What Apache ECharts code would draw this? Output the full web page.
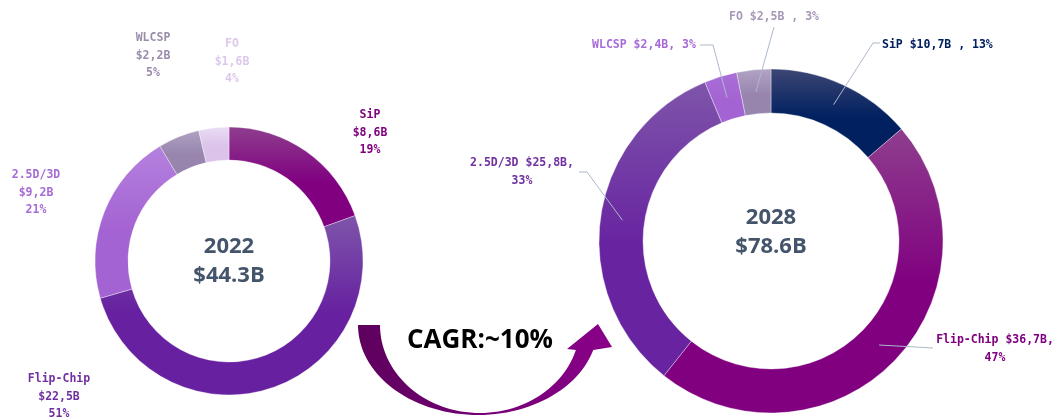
<!DOCTYPE html>
<html>
<head>
<meta charset="utf-8">
<script src="https://cdn.jsdelivr.net/npm/echarts@6/dist/echarts.min.js"></script>
<style>
html,body{margin:0;padding:0;background:#fff;}
#chart{width:1064px;height:418px;}
</style>
</head>
<body>
<div id="chart"></div>
<script>
// ---- data ----
const categories = ['SiP', 'Flip-Chip', '2.5D/3D', 'WLCSP', 'FO'];
const values2022 = [8.6, 22.5, 9.2, 2.2, 1.6];
const shares2022 = [19, 51, 21, 5, 4];
const values2028 = [10.7, 36.7, 25.8, 2.4, 2.5];
const shares2028 = [13, 47, 33, 3, 3];
const years = ['2022', '2028'];
const totals = ['$44.3B', '$78.6B'];
const cagrText = 'CAGR:~10%';

// ---- styles ----
const fillTop2022 = ['#8E3E8E', '#7E55AA', '#B481DF', '#AFA2C2', '#EADCF4'];
const fillBot2022 = ['#800080', '#6620A0', '#A463D2', '#9785AE', '#DBC3EA'];
const labelColor2022 = ['#800080', '#7030A0', '#A66BD6', '#9A8CAA', '#DCC8EC'];
const fillTop2028 = ['#3D4674', '#8E3E8E', '#7E55AA', '#A96FD8', '#B2A4C4'];
const fillBot2028 = ['#002060', '#800080', '#6824A0', '#A463D2', '#9785AE'];
const labelColor2028 = ['#002060', '#800080', '#7030A0', '#A66BD6', '#A898B8'];

const monoFont = '"DejaVu Sans Mono", "Liberation Mono", monospace';
const titleFont = '"Open Sans", "Noto Sans", sans-serif';
const centers = [[229, 261], [771, 241]];
const radii = [[101, 134], [128, 172]];

// label anchor positions (text centre) per series / data index
const labelPos2022 = [
  {x: 370, y: 133, align: 'center'},
  {x: 59, y: 397, align: 'center'},
  {x: 36, y: 193, align: 'center'},
  {x: 153, y: 56, align: 'center'},
  {x: 232, y: 62, align: 'center'}
];
const labelPos2028 = [
  {x: 882, y: 45, align: 'left', elbow: [873, 43], end: [880, 43]},
  {x: 995, y: 349, align: 'center', elbow: [915, 347], end: [933, 348]},
  {x: 522, y: 172, align: 'center', elbow: [587, 172], end: [579, 172]},
  {x: 644, y: 45, align: 'center', elbow: [713, 45], end: [700, 45]},
  {x: 774, y: 17, align: 'center', elbow: [774, 27], end: [774, 27]}
];

function money(v) { return '$' + String(v).replace('.', ','); }
const label2028Fmt = [
  (n, v, s) => n + ' ' + money(v) + 'B , ' + s + '%',
  (n, v, s) => n + ' ' + money(v) + 'B,\n' + s + '%',
  (n, v, s) => n + ' ' + money(v) + 'B,\n' + s + '%',
  (n, v, s) => n + ' ' + money(v) + 'B, ' + s + '%',
  (n, v, s) => n + ' ' + money(v) + 'B , ' + s + '%'
];

function grad(top, bot) {
  return new echarts.graphic.LinearGradient(0, 0, 0, 1, [
    {offset: 0, color: top}, {offset: 0.55, color: bot}, {offset: 1, color: bot}
  ]);
}

const data2022 = categories.map((c, i) => ({
  name: c, value: values2022[i],
  itemStyle: {color: grad(fillTop2022[i], fillBot2022[i])},
  label: {color: labelColor2022[i]}
}));
const data2028 = categories.map((c, i) => ({
  name: c, value: values2028[i],
  itemStyle: {color: grad(fillTop2028[i], fillBot2028[i])},
  label: {color: labelColor2028[i]}
}));

// curved arrow (decorative shape)
function arrowPoints() {
  const pts = [];
  const oc = [478, 325], orx = 120, ory = 90;
  const ic = [480, 325], irx = 100, iry = 88;
  const endO = Math.asin(25 / ory);
  const endI = Math.asin(25 / iry);
  const N = 60;
  for (let k = 0; k <= N; k++) {
    const a = Math.PI - (Math.PI - endO) * k / N;
    pts.push([oc[0] + orx * Math.cos(a), oc[1] + ory * Math.sin(a)]);
  }
  pts.push([612, 347]);
  pts.push([598, 324]);
  pts.push([567, 349]);
  for (let k = 0; k <= N; k++) {
    const a = endI + (Math.PI - endI) * k / N;
    pts.push([ic[0] + irx * Math.cos(a), ic[1] + iry * Math.sin(a)]);
  }
  return pts;
}

const chart = echarts.init(document.getElementById('chart'), null, {renderer: 'canvas'});

function pieSeries(idx, data) {
  return {
    type: 'pie',
    center: centers[idx],
    radius: radii[idx],
    startAngle: 90,
    clockwise: true,
    avoidLabelOverlap: false,
    animation: false,
    silent: true,
    z: 2,
    itemStyle: {borderColor: 'rgba(255,255,255,0.6)', borderWidth: 0.6},
    label: {
      show: true,
      position: 'outside',
      fontFamily: monoFont,
      fontWeight: 'bold',
      fontSize: 11.5,
      lineHeight: 17.5,
      formatter: idx === 0
        ? (p) => p.name + '\n' + money(p.value) + 'B\n' + shares2022[p.dataIndex] + '%'
        : (p) => label2028Fmt[p.dataIndex](p.name, p.value, shares2028[p.dataIndex])
    },
    labelLine: {show: false},
    labelLayout: function (params) {
      const pos = (idx === 0 ? labelPos2022 : labelPos2028)[params.dataIndex];
      return {x: pos.x, y: pos.y, align: pos.align, verticalAlign: 'middle'};
    },
    data: data
  };
}

function centerText(text, x, y, size, color) {
  return {
    type: 'text', x: x, y: y, silent: true, z: 5,
    style: {text: text, fontSize: size, fontWeight: 'bold', fontFamily: titleFont,
      fill: color, align: 'center', verticalAlign: 'middle'}
  };
}

const baseGraphics = [
  {
    type: 'polygon',
    id: 'arrow',
    silent: true,
    shape: {points: arrowPoints()},
    style: {
      fill: new echarts.graphic.LinearGradient(0, 0, 1, 0, [
        {offset: 0, color: '#5E005E'}, {offset: 1, color: '#8A008A'}
      ], false)
    },
    z: 1
  },
  centerText(cagrText, 480, 341, 26, '#000000'),
  centerText(years[0], centers[0][0], 247, 22, '#44546A'),
  centerText(totals[0], centers[0][0], 276, 22, '#44546A'),
  centerText(years[1], centers[1][0], 218, 22, '#44546A'),
  centerText(totals[1], centers[1][0], 247, 22, '#44546A')
];

chart.setOption({
  backgroundColor: '#ffffff',
  animation: false,
  series: [pieSeries(0, data2022), pieSeries(1, data2028)],
  graphic: baseGraphics
});

// leader lines for the 2028 ring, started mid-ring at each slice's middle angle
// (angles taken from the library's own pie layout), drawn above the ring.
const sData = chart.getModel().getSeriesByIndex(1).getData();
const leaderLines = [];
for (let i = 0; i < sData.count(); i++) {
  const lay = sData.getItemLayout(i);
  const mid = (lay.startAngle + lay.endAngle) / 2;
  const midR = (lay.r0 + lay.r) / 2;
  const start = [lay.cx + Math.cos(mid) * midR, lay.cy + Math.sin(mid) * midR];
  const pos = labelPos2028[i];
  leaderLines.push({
    type: 'polyline', silent: true, z: 10,
    shape: {points: [start, pos.elbow, pos.end]},
    style: {stroke: '#ADB9CA', lineWidth: 1, fill: null}
  });
}
chart.setOption({graphic: baseGraphics.concat(leaderLines)});
</script>
</body>
</html>
